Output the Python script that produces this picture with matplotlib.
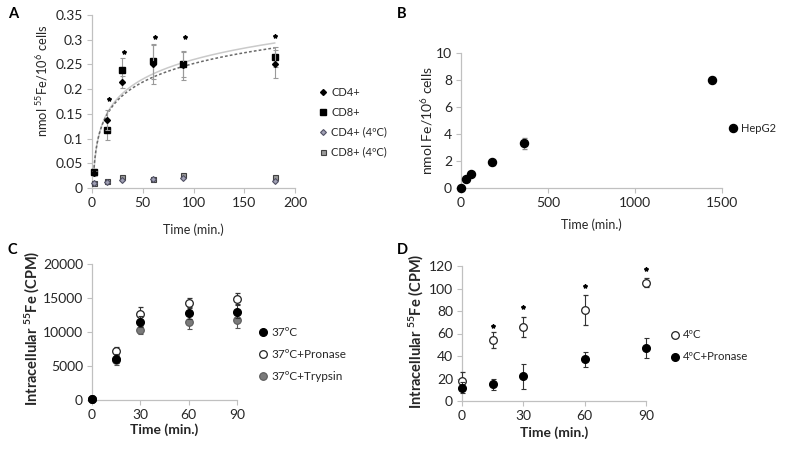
import numpy as np
import matplotlib.pyplot as plt
from matplotlib.lines import Line2D
from matplotlib.ticker import FixedLocator

plt.rcParams['font.family'] = ['Lato', 'DejaVu Sans']
plt.rcParams['mathtext.default'] = 'regular'

##############################################################################
#                                   data                                     #
##############################################################################
# Panel A - T cells
A_TIME = [2, 15, 30, 60, 90, 180]
A_CD4 = [0.030, 0.137, 0.215, 0.250, 0.248, 0.251]
A_CD4_ERR = [0.005, 0.020, 0.012, 0.040, 0.030, 0.028]
A_CD8 = [0.032, 0.117, 0.238, 0.256, 0.250, 0.265]
A_CD8_ERR = [0.006, 0.020, 0.025, 0.036, 0.026, 0.020]
A_CD4_COLD = [0.010, 0.013, 0.016, 0.019, 0.020, 0.014]
A_CD8_COLD = [0.011, 0.014, 0.022, 0.019, 0.026, 0.023]
A_STAR_TIME = [17, 32, 62, 92, 180]
A_STAR_Y = [0.181, 0.276, 0.305, 0.305, 0.308]
A_LABELS = ["CD4+", "CD8+", "CD4+ (4ºC)", "CD8+ (4ºC)"]
A_YTICKS = [0, 0.05, 0.1, 0.15, 0.2, 0.25, 0.3, 0.35]
A_YTICKLABELS = ["0", "0.05", "0.1", "0.15", "0.2", "0.25", "0.3", "0.35"]

# Panel B - HepG2
B_TIME = [0, 30, 60, 180, 360, 1440]
B_FE = [0.0, 0.67, 1.06, 1.9, 3.3, 8.02]
B_ERR = [0.05, 0.1, 0.1, 0.2, 0.4, 0.2]

# Panel C - 37 C
C_TIME = [0, 15, 30, 60, 90]
C_37 = [150, 6100, 11500, 12800, 13000]
C_37_ERR = [100, 700, 800, 900, 1000]
C_PRON = [150, 7200, 12700, 14300, 14900]
C_PRON_ERR = [100, 600, 1000, 700, 800]
C_TRYP = [150, 5900, 10300, 11500, 11700]
C_TRYP_ERR = [100, 700, 600, 1000, 1100]
C_LABELS = ["37ºC", "37ºC+Pronase", "37ºC+Trypsin"]

# Panel D - 4 C
D_TIME = [0, 15, 30, 60, 90]
D_COLD = [18, 54, 66, 81, 105]
D_COLD_ERR = [8, 7, 9, 13.5, 4]
D_PRON = [12, 15, 22, 37, 47]
D_PRON_ERR = [5, 5, 11, 7, 9]
D_STAR_TIME = [15, 30, 60, 90]
D_STAR_Y = [67, 84, 102, 117]
D_LABELS = ["4ºC", "4ºC+Pronase"]

GRID_GREY = "#c0c0c0"
TEXT_COL = "#262626"


##############################################################################
#                                  helpers                                   #
##############################################################################
def style_axes(ax, size):
    for side in ["top", "right"]:
        ax.spines[side].set_visible(False)
    for side in ["left", "bottom"]:
        ax.spines[side].set_color(GRID_GREY)
        ax.spines[side].set_linewidth(0.9)
    ax.tick_params(direction="out", length=3.5, width=0.8, color=GRID_GREY,
                   labelsize=size, labelcolor=TEXT_COL, pad=3)


def figure_legend(fig, handles, labels, x_px, y_px, size, step_px):
    """Excel style legend: marker then label, one row every step_px."""
    for i, (h, label) in enumerate(zip(handles, labels)):
        x = x_px / 787
        y = 1 - (y_px + i * step_px) / 449
        fig.add_artist(Line2D([x], [y], transform=fig.transFigure,
                              marker=h.get_marker(), ms=h.get_markersize(),
                              mfc=h.get_markerfacecolor(),
                              mec=h.get_markeredgecolor(),
                              mew=h.get_markeredgewidth(), linestyle="none"))
        fig.text(x + 8 / 787, y, label, fontsize=size, color=TEXT_COL,
                 va="center", ha="left")


##############################################################################
#                                   main                                     #
##############################################################################
fig = plt.figure(figsize=(7.87, 4.49), dpi=100)

# ---------------------------- Panel A ------------------------------------
axA = fig.add_axes([92 / 787, 1 - 188 / 449, 203 / 787, 173 / 449])
style_axes(axA, 10)
eb_kw = dict(ecolor="#9a9a9a", elinewidth=0.8, capsize=1.8, capthick=0.8,
             linestyle="none", clip_on=False)
hA = []
hA.append(axA.errorbar(A_TIME, A_CD4, yerr=A_CD4_ERR, fmt="D", ms=3.0,
                       color="black", zorder=4, **eb_kw)[0])
hA.append(axA.errorbar(A_TIME, A_CD8, yerr=A_CD8_ERR, fmt="s", ms=4.3,
                       color="black", zorder=3, **eb_kw)[0])
hA.append(axA.plot(A_TIME, A_CD4_COLD, "D", ms=3.0, mfc="#a0a0b4",
                   mec="#505064", mew=0.8, clip_on=False, zorder=4)[0])
hA.append(axA.plot(A_TIME, A_CD8_COLD, "s", ms=3.6, mfc="#9a9a9a",
                   mec="#404040", mew=0.8, clip_on=False, zorder=3)[0])

# logarithmic trend lines fitted to the 37 C series
t_fit = np.linspace(min(A_TIME), max(A_TIME), 300)
k4, b4 = np.polyfit(np.log(A_TIME), A_CD4, 1)
k8, b8 = np.polyfit(np.log(A_TIME), A_CD8, 1)
axA.plot(t_fit, k8 * np.log(t_fit) + b8, "-", color="#cacaca", lw=1.1, zorder=2)
axA.plot(t_fit, k4 * np.log(t_fit) + b4, color="#6a6a6a", linestyle=(0, (1.8, 1.4)),
         lw=1.1, zorder=2)
axA.plot(A_STAR_TIME, A_STAR_Y, "*", ms=3.0, color="black", clip_on=False)

axA.set_xlim(0, 200)
axA.set_ylim(0, 0.35)
axA.set_xticks([0, 50, 100, 150, 200])
axA.yaxis.set_major_locator(FixedLocator(A_YTICKS))
axA.set_yticklabels(A_YTICKLABELS)
axA.set_xlabel("Time (min.)", fontsize=9, color=TEXT_COL)
axA.set_ylabel(r"nmol $^{55}$Fe/10$^{6}$ cells", fontsize=9.3, color=TEXT_COL)
axA.xaxis.set_label_coords(0.5, -0.205)
axA.yaxis.set_label_coords(-0.205, 0.62)
figure_legend(fig, hA, A_LABELS, 323, 92, 8, 20)

# ---------------------------- Panel B ------------------------------------
axB = fig.add_axes([461 / 787, 1 - 188 / 449, 261 / 787, 135 / 449])
style_axes(axB, 10)
hB = axB.errorbar(B_TIME, B_FE, yerr=B_ERR, fmt="o", ms=5.8, color="black",
                  ecolor="#8a8a8a", elinewidth=0.8, capsize=1.8,
                  clip_on=False, zorder=3)[0]
axB.set_xlim(0, 1500)
axB.set_ylim(0, 10)
axB.set_xticks([0, 500, 1000, 1500])
axB.set_yticks([0, 2, 4, 6, 8, 10])
axB.set_xlabel("Time (min.)", fontsize=9, color=TEXT_COL)
axB.set_ylabel(r"nmol Fe/10$^{6}$ cells", fontsize=10, color=TEXT_COL)
axB.xaxis.set_label_coords(0.5, -0.222)
axB.yaxis.set_label_coords(-0.098, 0.5)
figure_legend(fig, [hB], ["HepG2"], 733, 128, 8, 20)

# ---------------------------- Panel C ------------------------------------
axC = fig.add_axes([92 / 787, 1 - 400 / 449, 145 / 787, 136 / 449])
style_axes(axC, 10)
ebC = dict(elinewidth=0.8, capsize=1.8, capthick=0.8, linestyle="none",
           clip_on=False, ms=5.5)
hC = []
hC.append(axC.errorbar(C_TIME, C_PRON, yerr=C_PRON_ERR, fmt="o", mfc="white",
                       mec="#222222", mew=0.9, ecolor="#333333",
                       zorder=3, **ebC)[0])
hC.append(axC.errorbar(C_TIME, C_TRYP, yerr=C_TRYP_ERR, fmt="o", mfc="#7a7a7a",
                       mec="#5a5a5a", mew=0.8, ecolor="#555555",
                       zorder=4, **ebC)[0])
hC.append(axC.errorbar(C_TIME, C_37, yerr=C_37_ERR, fmt="o", color="black",
                       ecolor="#333333", zorder=5, **ebC)[0])
axC.set_xlim(0, 90)
axC.set_ylim(0, 20000)
axC.set_xticks([0, 30, 60, 90])
axC.set_yticks([0, 5000, 10000, 15000, 20000])
axC.set_xlabel("Time (min.)", fontsize=10, fontweight="bold", color=TEXT_COL)
axC.set_ylabel(r"Intracellular $^{55}$Fe (CPM)", fontsize=10.5,
               fontweight="bold", color=TEXT_COL)
axC.xaxis.set_label_coords(0.5, -0.17)
axC.yaxis.set_label_coords(-0.345, 0.53)
figure_legend(fig, [hC[2], hC[0], hC[1]], C_LABELS, 263, 332, 8.5, 22)

# ---------------------------- Panel D ------------------------------------
axD = fig.add_axes([462 / 787, 1 - 401 / 449, 184 / 787, 135 / 449])
style_axes(axD, 10)
hD = []
hD.append(axD.errorbar(D_TIME, D_COLD, yerr=D_COLD_ERR, fmt="o", mfc="white",
                       mec="#222222", mew=0.9, ecolor="#333333",
                       zorder=3, **ebC)[0])
hD.append(axD.errorbar(D_TIME, D_PRON, yerr=D_PRON_ERR, fmt="o", color="black",
                       ecolor="#333333", zorder=4, **ebC)[0])
axD.plot(D_STAR_TIME, D_STAR_Y, "*", ms=3.0, color="black", clip_on=False)
axD.set_xlim(0, 90)
axD.set_ylim(0, 120)
axD.set_xticks([0, 30, 60, 90])
axD.set_yticks([0, 20, 40, 60, 80, 100, 120])
axD.set_xlabel("Time (min.)", fontsize=10, fontweight="bold", color=TEXT_COL)
axD.set_ylabel(r"Intracellular $^{55}$Fe (CPM)", fontsize=10.5,
               fontweight="bold", color=TEXT_COL)
axD.xaxis.set_label_coords(0.5, -0.185)
axD.yaxis.set_label_coords(-0.195, 0.52)
figure_legend(fig, hD, D_LABELS, 675, 335, 8.2, 22)

# panel letters
for letter, x, y in [("A", 8, 14), ("B", 397, 14), ("C", 8, 250), ("D", 397, 250)]:
    fig.text(x / 787, 1 - y / 449, letter, fontsize=10.5, fontweight="bold",
             va="center", ha="left")

fig.savefig("out.png", dpi=100)
